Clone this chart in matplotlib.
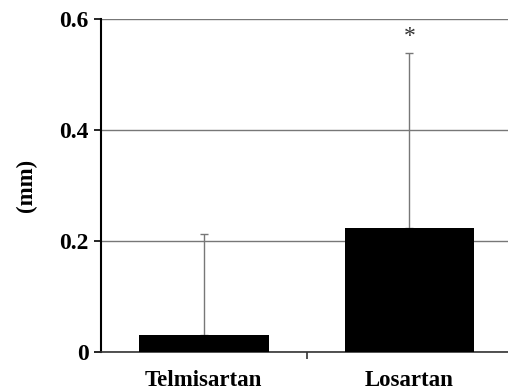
import matplotlib.pyplot as plt

groups = ["Telmisartan", "Losartan"]
means = [0.031, 0.223]
sd_up = [0.182, 0.316]
yticks = [0, 0.2, 0.4, 0.6]
ytick_labels = ["0", "0.2", "0.4", "0.6"]

plt.rcParams['font.family'] = ['Liberation Serif', 'DejaVu Serif']
plt.rcParams['font.weight'] = 'bold'

fig = plt.figure(figsize=(5.08, 3.91), dpi=100)
ax = fig.add_axes([101/508, 39/391, 407/508, 333/391])

x = [0.5, 1.5]
ax.bar(x, means, width=0.63, color='black', zorder=3)
ax.errorbar(x, means, yerr=[[0, 0], sd_up], fmt='none', ecolor='#777777',
            elinewidth=1, capsize=3, capthick=1, zorder=2)
ax.text(x[1], means[1] + sd_up[1] + 0.01, "*", ha='center', va='bottom',
        fontsize=17, fontweight='normal', color='#333333')

ax.set_xlim(0, 1.98)
ax.set_ylim(0, 0.6)
ax.set_yticks(yticks)
ax.set_yticklabels(ytick_labels)
ax.set_xticks([1.0])
ax.set_xticklabels([""])
ax.tick_params(axis='x', direction='out', length=5, width=1.2, color='#333333')
ax.tick_params(axis='y', direction='out', length=5, width=1.2, labelsize=17, pad=4)
for xi, g in zip(x, groups):
    ax.text(xi, -0.033, g, transform=ax.transData, ha='center', va='top',
            fontsize=16.5, fontweight='bold')

ax.grid(axis='y', color='#777777', linewidth=1, zorder=0)
for s in ['top', 'right']:
    ax.spines[s].set_visible(False)
ax.spines['left'].set_linewidth(1.5)
ax.spines['bottom'].set_linewidth(1.2)
ax.spines['bottom'].set_color('#333333')
ax.set_ylabel("(mm)", fontsize=16.5, fontweight='bold', labelpad=16)

fig.savefig("out.png", dpi=100)
